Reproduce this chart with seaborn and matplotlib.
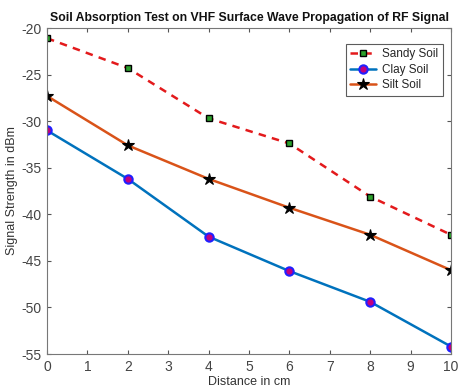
import numpy as np
import pandas as pd
import matplotlib
matplotlib.use("Agg")
import matplotlib.pyplot as plt
import seaborn as sns

# 数据
distance = [0, 2, 4, 6, 8, 10]
sandy_soil = [-21.1, -24.3, -29.7, -32.4, -38.1, -42.2]
clay_soil = [-31.0, -36.2, -42.4, -46.1, -49.4, -54.2]
silt_soil = [-27.3, -32.6, -36.2, -39.3, -42.2, -46.0]
series_names = ["Sandy Soil", "Clay Soil", "Silt Soil"]

df = pd.DataFrame({
    "distance": distance * 3,
    "signal": sandy_soil + clay_soil + silt_soil,
    "soil": [series_names[0]] * 6 + [series_names[1]] * 6 + [series_names[2]] * 6,
})

sns.set_style("ticks")
plt.rcParams["font.family"] = ["Liberation Sans", "DejaVu Sans"]
plt.rcParams["axes.unicode_minus"] = False

fig = plt.figure(figsize=(4.59, 3.90), dpi=100)
ax = fig.add_axes([47 / 459, 1 - 354 / 390, (451 - 47) / 459, (354 - 28) / 390])

styles = {
    "Sandy Soil": dict(color="#e31a1c", linestyle=(0, (3, 2.5)), marker="s", markersize=4.5,
                       markerfacecolor="#2ca02c", markeredgecolor="black", markeredgewidth=1),
    "Clay Soil": dict(color="#0072bd", linestyle="-", marker="o", markersize=6,
                      markerfacecolor="#c0007f", markeredgecolor="#2020ff", markeredgewidth=1.5),
    "Silt Soil": dict(color="#d95319", linestyle="-", marker="*", markersize=9,
                      markerfacecolor="black", markeredgecolor="black", markeredgewidth=0.8),
}

for name in series_names:
    sub = df[df["soil"] == name]
    sns.lineplot(data=sub, x="distance", y="signal", ax=ax, label=name, linewidth=1.8,
                 **styles[name])

ax.set_xlim(0, 10)
ax.set_ylim(-55, -20)
ax.set_xticks(range(0, 11))
ax.set_yticks(range(-55, -19, 5))
ax.tick_params(direction="in", top=True, right=True, length=3, labelsize=10,
               colors="#555555", labelcolor="#444444", width=0.8, pad=4)
for sp in ax.spines.values():
    sp.set_color("#777777")
    sp.set_linewidth(0.8)
    sp.set_visible(True)

ax.set_title("Soil Absorption Test on VHF Surface Wave Propagation of RF Signal",
             fontsize=8.8, fontweight="bold", pad=5, color="#111111")
ax.set_xlabel("Distance in cm", fontsize=9, color="#333333", labelpad=2)
ax.set_ylabel("Signal Strength in dBm", fontsize=9, color="#333333", labelpad=2)

leg = ax.legend(loc="upper right", fontsize=8.5, frameon=True, fancybox=False,
                handlelength=2.2, handletextpad=0.5, borderpad=0.4, labelspacing=0.3,
                bbox_to_anchor=(0.995, 0.97))
leg.get_frame().set_edgecolor("#333333")
leg.get_frame().set_linewidth(0.8)

fig.savefig("out.png", dpi=100)
